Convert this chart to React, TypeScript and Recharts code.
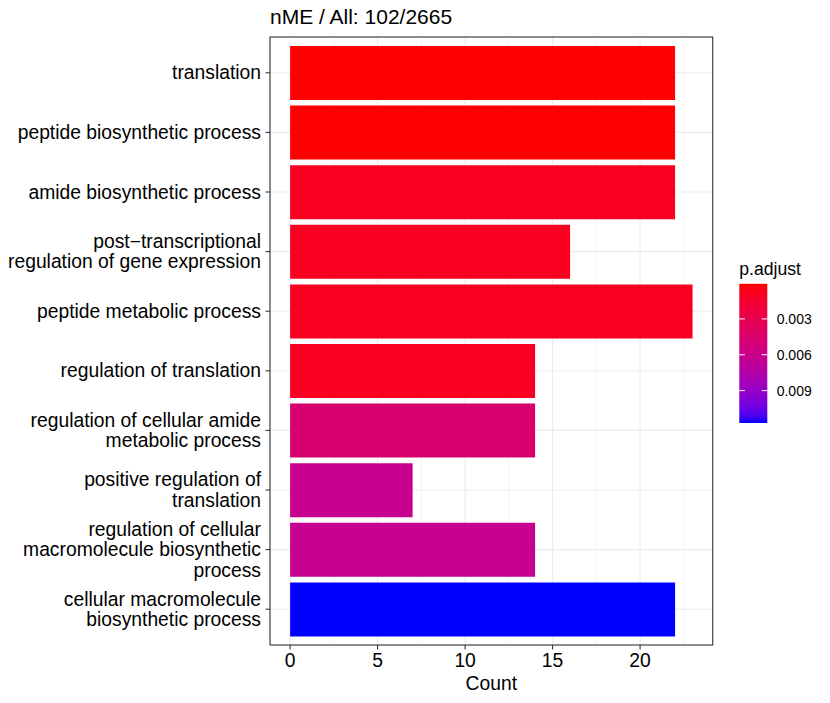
import React from 'react';
import { Bar, BarChart, CartesianGrid, Cell, XAxis, YAxis } from 'recharts';

const terms = [
  'translation',
  'peptide biosynthetic process',
  'amide biosynthetic process',
  'post−transcriptional\nregulation of gene expression',
  'peptide metabolic process',
  'regulation of translation',
  'regulation of cellular amide\nmetabolic process',
  'positive regulation of\ntranslation',
  'regulation of cellular\nmacromolecule biosynthetic\nprocess',
  'cellular macromolecule\nbiosynthetic process',
];
const counts = [22, 22, 22, 16, 23, 14, 14, 7, 14, 22];
const pAdjust = [0.000064, 0.00007, 0.00084, 0.00084, 0.00084, 0.0009, 0.0046, 0.0061, 0.0062, 0.01171];
const countTicks = [0, 5, 10, 15, 20];
const countMinorTicks = [2.5, 7.5, 12.5, 17.5, 22.5];
const pTicks = [0.003, 0.006, 0.009];

const title = 'nME / All: 102/2665';

const W = 830;
const H = 703;
const PANEL = { left: 270, top: 37, right: 712.7, bottom: 645 };
const FONT = '"Liberation Sans", Arial, Helvetica, sans-serif';
const AXIS_FS = 19.3;

const data = terms.map((term, i) => ({ term, count: counts[i], p: pAdjust[i] }));

// red -> blue in Lab space, like ggplot's gradient
const toLin = (c: number) => {
  c /= 255;
  return c <= 0.04045 ? c / 12.92 : Math.pow((c + 0.055) / 1.055, 2.4);
};
const fromLin = (c: number) => {
  const v = c <= 0.0031308 ? 12.92 * c : 1.055 * Math.pow(c, 1 / 2.4) - 0.055;
  return Math.max(0, Math.min(255, Math.round(v * 255)));
};
const f = (t: number) => (t > 0.008856 ? Math.cbrt(t) : 7.787 * t + 16 / 116);
const fi = (t: number) => (t > 0.206893 ? t * t * t : (t - 16 / 116) / 7.787);
const rgbToLab = (r: number, g: number, b: number) => {
  const R = toLin(r), G = toLin(g), B = toLin(b);
  const X = (0.4124 * R + 0.3576 * G + 0.1805 * B) / 0.95047;
  const Y = 0.2126 * R + 0.7152 * G + 0.0722 * B;
  const Z = (0.0193 * R + 0.1192 * G + 0.9505 * B) / 1.08883;
  return [116 * f(Y) - 16, 500 * (f(X) - f(Y)), 200 * (f(Y) - f(Z))];
};
const labToHex = (L: number, a: number, b: number) => {
  const fy = (L + 16) / 116;
  const X = fi(fy + a / 500) * 0.95047;
  const Y = fi(fy);
  const Z = fi(fy - b / 200) * 1.08883;
  const R = 3.2406 * X - 1.5372 * Y - 0.4986 * Z;
  const G = -0.9689 * X + 1.8758 * Y + 0.0415 * Z;
  const B = 0.0557 * X - 0.204 * Y + 1.057 * Z;
  return '#' + [R, G, B].map((c) => fromLin(c).toString(16).padStart(2, '0')).join('');
};
const LOW = rgbToLab(255, 0, 0);
const HIGH = rgbToLab(0, 0, 255);
const pMin = Math.min(...pAdjust);
const pMax = Math.max(...pAdjust);
const pFrac = (p: number) => (p - pMin) / (pMax - pMin);
const rampColor = (t: number) =>
  labToHex(LOW[0] + (HIGH[0] - LOW[0]) * t, LOW[1] + (HIGH[1] - LOW[1]) * t, LOW[2] + (HIGH[2] - LOW[2]) * t);

const TermTick = (props: any) => {
  const { x, y, payload } = props;
  const lines = String(payload.value).split('\n');
  const lh = 20.5;
  return (
    <text x={x} y={y} textAnchor="end" fontSize={AXIS_FS} fill="#000" fontFamily={FONT}>
      {lines.map((line, i) => (
        <tspan key={i} x={x} y={y + 6.6 + (i - (lines.length - 1) / 2) * lh}>
          {line}
        </tspan>
      ))}
    </text>
  );
};

const LEG = { x: 739.3, top: 283.8, w: 28, h: 139.2 };

const Overlay = () => {
  const stops = Array.from({ length: 21 }, (_, i) => i / 20);
  return (
    <svg
      width={W}
      height={H}
      style={{ position: 'absolute', left: 0, top: 0, pointerEvents: 'none' }}
      fontFamily={FONT}
    >
      <defs>
        <linearGradient id="padj" x1="0" y1="0" x2="0" y2="1">
          {stops.map((t) => (
            <stop key={t} offset={t} stopColor={rampColor(t)} />
          ))}
        </linearGradient>
      </defs>
      <rect
        x={PANEL.left}
        y={PANEL.top}
        width={PANEL.right - PANEL.left}
        height={PANEL.bottom - PANEL.top}
        fill="none"
        stroke="#333333"
        strokeWidth={1.07}
      />
      <text x={PANEL.left} y={23.5} fontSize={21} fill="#000">
        {title}
      </text>
      <text x={LEG.x} y={275} fontSize={17.6} fill="#000">
        p.adjust
      </text>
      <rect x={LEG.x} y={LEG.top} width={LEG.w} height={LEG.h} fill="url(#padj)" />
      {pTicks.map((p) => {
        const y = LEG.top + pFrac(p) * LEG.h;
        return (
          <g key={p}>
            <line x1={LEG.x} x2={LEG.x + 5.6} y1={y} y2={y} stroke="#fff" strokeWidth={1} />
            <line x1={LEG.x + LEG.w - 5.6} x2={LEG.x + LEG.w} y1={y} y2={y} stroke="#fff" strokeWidth={1} />
            <text x={LEG.x + LEG.w + 9.4} y={y + 5} fontSize={14} fill="#000">
              {p.toFixed(3)}
            </text>
          </g>
        );
      })}
    </svg>
  );
};

export default function App() {
  return (
    <div style={{ position: 'absolute', left: 0, top: 0, width: W, height: H, background: '#fff' }}>
      <BarChart
        width={W}
        height={H}
        data={data}
        layout="vertical"
        margin={{ top: PANEL.top, right: W - PANEL.right, bottom: 0, left: 0 }}
        barCategoryGap="5%"
      >
        <CartesianGrid xAxisId="minor" horizontal={false} stroke="#EBEBEB" strokeWidth={0.55} />
        <CartesianGrid stroke="#EBEBEB" strokeWidth={1.07} />
        <XAxis
          xAxisId="minor"
          type="number"
          domain={[-1.15, 24.15]}
          ticks={countMinorTicks}
          allowDataOverflow
          hide
        />
        <XAxis
          type="number"
          dataKey="count"
          domain={[-1.15, 24.15]}
          ticks={countTicks}
          allowDataOverflow
          height={H - PANEL.bottom}
          axisLine={false}
          tickSize={4.5}
          tickMargin={4}
          tickLine={{ stroke: '#333333', strokeWidth: 1.07 }}
          tick={{ fontSize: AXIS_FS, fill: '#000', fontFamily: FONT }}
          label={{ value: 'Count', position: 'insideBottom', offset: 13, fontSize: AXIS_FS, fill: '#000', fontFamily: FONT }}
        />
        <YAxis
          type="category"
          dataKey="term"
          width={PANEL.left}
          interval={0}
          padding={{ top: 6, bottom: 6 }}
          axisLine={false}
          tickSize={4.5}
          tickMargin={4.5}
          tickLine={{ stroke: '#333333', strokeWidth: 1.07 }}
          tick={<TermTick />}
        />
        <Bar dataKey="count" isAnimationActive={false}>
          {data.map((d, i) => (
            <Cell key={i} fill={rampColor(pFrac(d.p))} />
          ))}
        </Bar>
      </BarChart>
      <Overlay />
    </div>
  );
}
